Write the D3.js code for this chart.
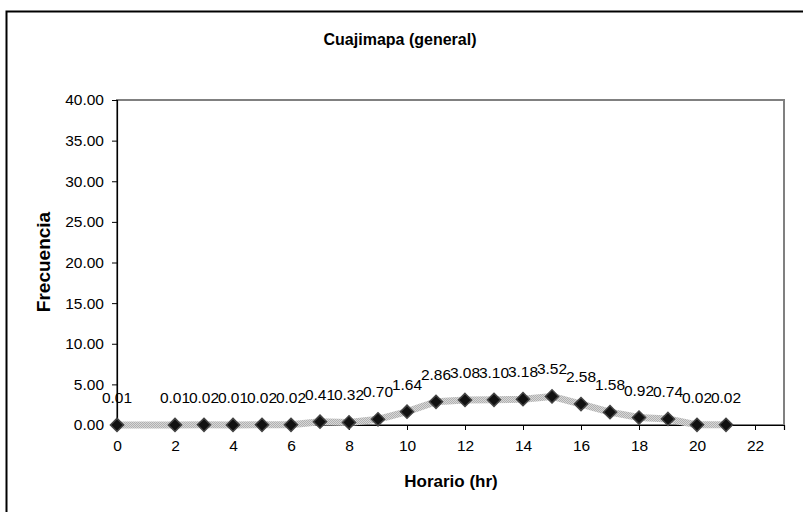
<!DOCTYPE html>
<html>
<head>
<meta charset="utf-8">
<script src="https://cdn.jsdelivr.net/npm/d3@7"></script>
<style>
  body { margin: 0; background: #fff; }
  text { font-family: "Liberation Sans", Arial, sans-serif; }
</style>
</head>
<body>
<svg id="chart" width="803" height="512"></svg>
<script>
// Hours of day and observed frequency
const hours = [0, 2, 3, 4, 5, 6, 7, 8, 9, 10, 11, 12, 13, 14, 15, 16, 17, 18, 19, 20, 21];
const frecuencia = [0.01, 0.01, 0.02, 0.01, 0.02, 0.02, 0.41, 0.32, 0.70, 1.64, 2.86, 3.08, 3.10, 3.18, 3.52, 2.58, 1.58, 0.92, 0.74, 0.02, 0.02];
const xTicks = [0, 2, 4, 6, 8, 10, 12, 14, 16, 18, 20, 22];
const yTicks = [0, 5, 10, 15, 20, 25, 30, 35, 40];

const data = hours.map((h, i) => ({ h, v: frecuencia[i] }));

const svg = d3.select("#chart");
const plot = { left: 117, top: 100, right: 784, bottom: 425 };

// outer chart frame (runs past the window on the right and bottom)
svg.append("rect")
  .attr("x", 6.5).attr("y", 11.5)
  .attr("width", 820).attr("height", 520)
  .attr("fill", "#fff").attr("stroke", "#000").attr("stroke-width", 2);

const x = d3.scaleLinear().domain([0, 23]).range([plot.left, plot.right]);
const y = d3.scaleLinear().domain([0, 40]).range([plot.bottom, plot.top]);

// plot area frame
svg.append("rect")
  .attr("x", plot.left).attr("y", plot.top)
  .attr("width", plot.right - plot.left).attr("height", plot.bottom - plot.top)
  .attr("fill", "none").attr("stroke", "#808080").attr("stroke-width", 2);

// y axis
const yAxis = svg.append("g")
  .attr("transform", `translate(${plot.left},0)`)
  .call(d3.axisLeft(y).tickValues(yTicks).tickFormat(d3.format(".2f")).tickSize(5).tickPadding(8));
yAxis.select(".domain").attr("stroke", "#000").attr("stroke-width", 1.2);
yAxis.selectAll(".tick line").attr("stroke", "#000");
yAxis.selectAll("text").attr("font-size", 15.5).attr("fill", "#000");

// x axis
const xAxis = svg.append("g")
  .attr("transform", `translate(0,${plot.bottom})`)
  .call(d3.axisBottom(x).tickValues(xTicks).tickFormat(d3.format("d")).tickSize(5).tickPadding(10));
xAxis.select(".domain").attr("stroke", "#000").attr("stroke-width", 1.2);
xAxis.selectAll(".tick line").attr("stroke", "#000");
xAxis.selectAll("text").attr("font-size", 15.5).attr("fill", "#000");

// textured grey series line
const defs = svg.append("defs");
const pat = defs.append("pattern")
  .attr("id", "dots").attr("width", 2).attr("height", 2)
  .attr("patternUnits", "userSpaceOnUse");
pat.append("rect").attr("width", 2).attr("height", 2).attr("fill", "#d8d8d8");
pat.append("rect").attr("width", 1).attr("height", 1).attr("fill", "#b0b0b0");
pat.append("rect").attr("x", 1).attr("y", 1).attr("width", 1).attr("height", 1).attr("fill", "#b0b0b0");

const line = d3.line().x(d => x(d.h)).y(d => y(d.v));
svg.append("path")
  .datum(data)
  .attr("d", line)
  .attr("fill", "none")
  .attr("stroke", "url(#dots)")
  .attr("stroke-width", 7)
  .attr("stroke-linejoin", "round");

// diamond markers
const diamond = d3.symbol().type(d3.symbolDiamond2).size(110);
svg.append("g").selectAll("path")
  .data(data)
  .join("path")
  .attr("d", diamond)
  .attr("transform", d => `translate(${x(d.h)},${y(d.v)})`)
  .attr("fill", "#111")
  .attr("stroke", "#444")
  .attr("stroke-width", 1.5);

// value labels
svg.append("g").selectAll("text")
  .data(data)
  .join("text")
  .attr("x", d => x(d.h))
  .attr("y", d => y(d.v) - 22)
  .attr("text-anchor", "middle")
  .attr("font-size", 15.5)
  .attr("fill", "#000")
  .text(d => d.v.toFixed(2));

// titles
svg.append("text")
  .attr("x", 400).attr("y", 45)
  .attr("text-anchor", "middle")
  .attr("font-size", 16).attr("font-weight", "bold")
  .text("Cuajimapa (general)");

svg.append("text")
  .attr("x", 451).attr("y", 487)
  .attr("text-anchor", "middle")
  .attr("font-size", 17).attr("font-weight", "bold")
  .text("Horario (hr)");

svg.append("text")
  .attr("transform", `translate(50,262) rotate(-90)`)
  .attr("text-anchor", "middle")
  .attr("font-size", 19).attr("font-weight", "bold")
  .text("Frecuencia");
</script>
</body>
</html>
